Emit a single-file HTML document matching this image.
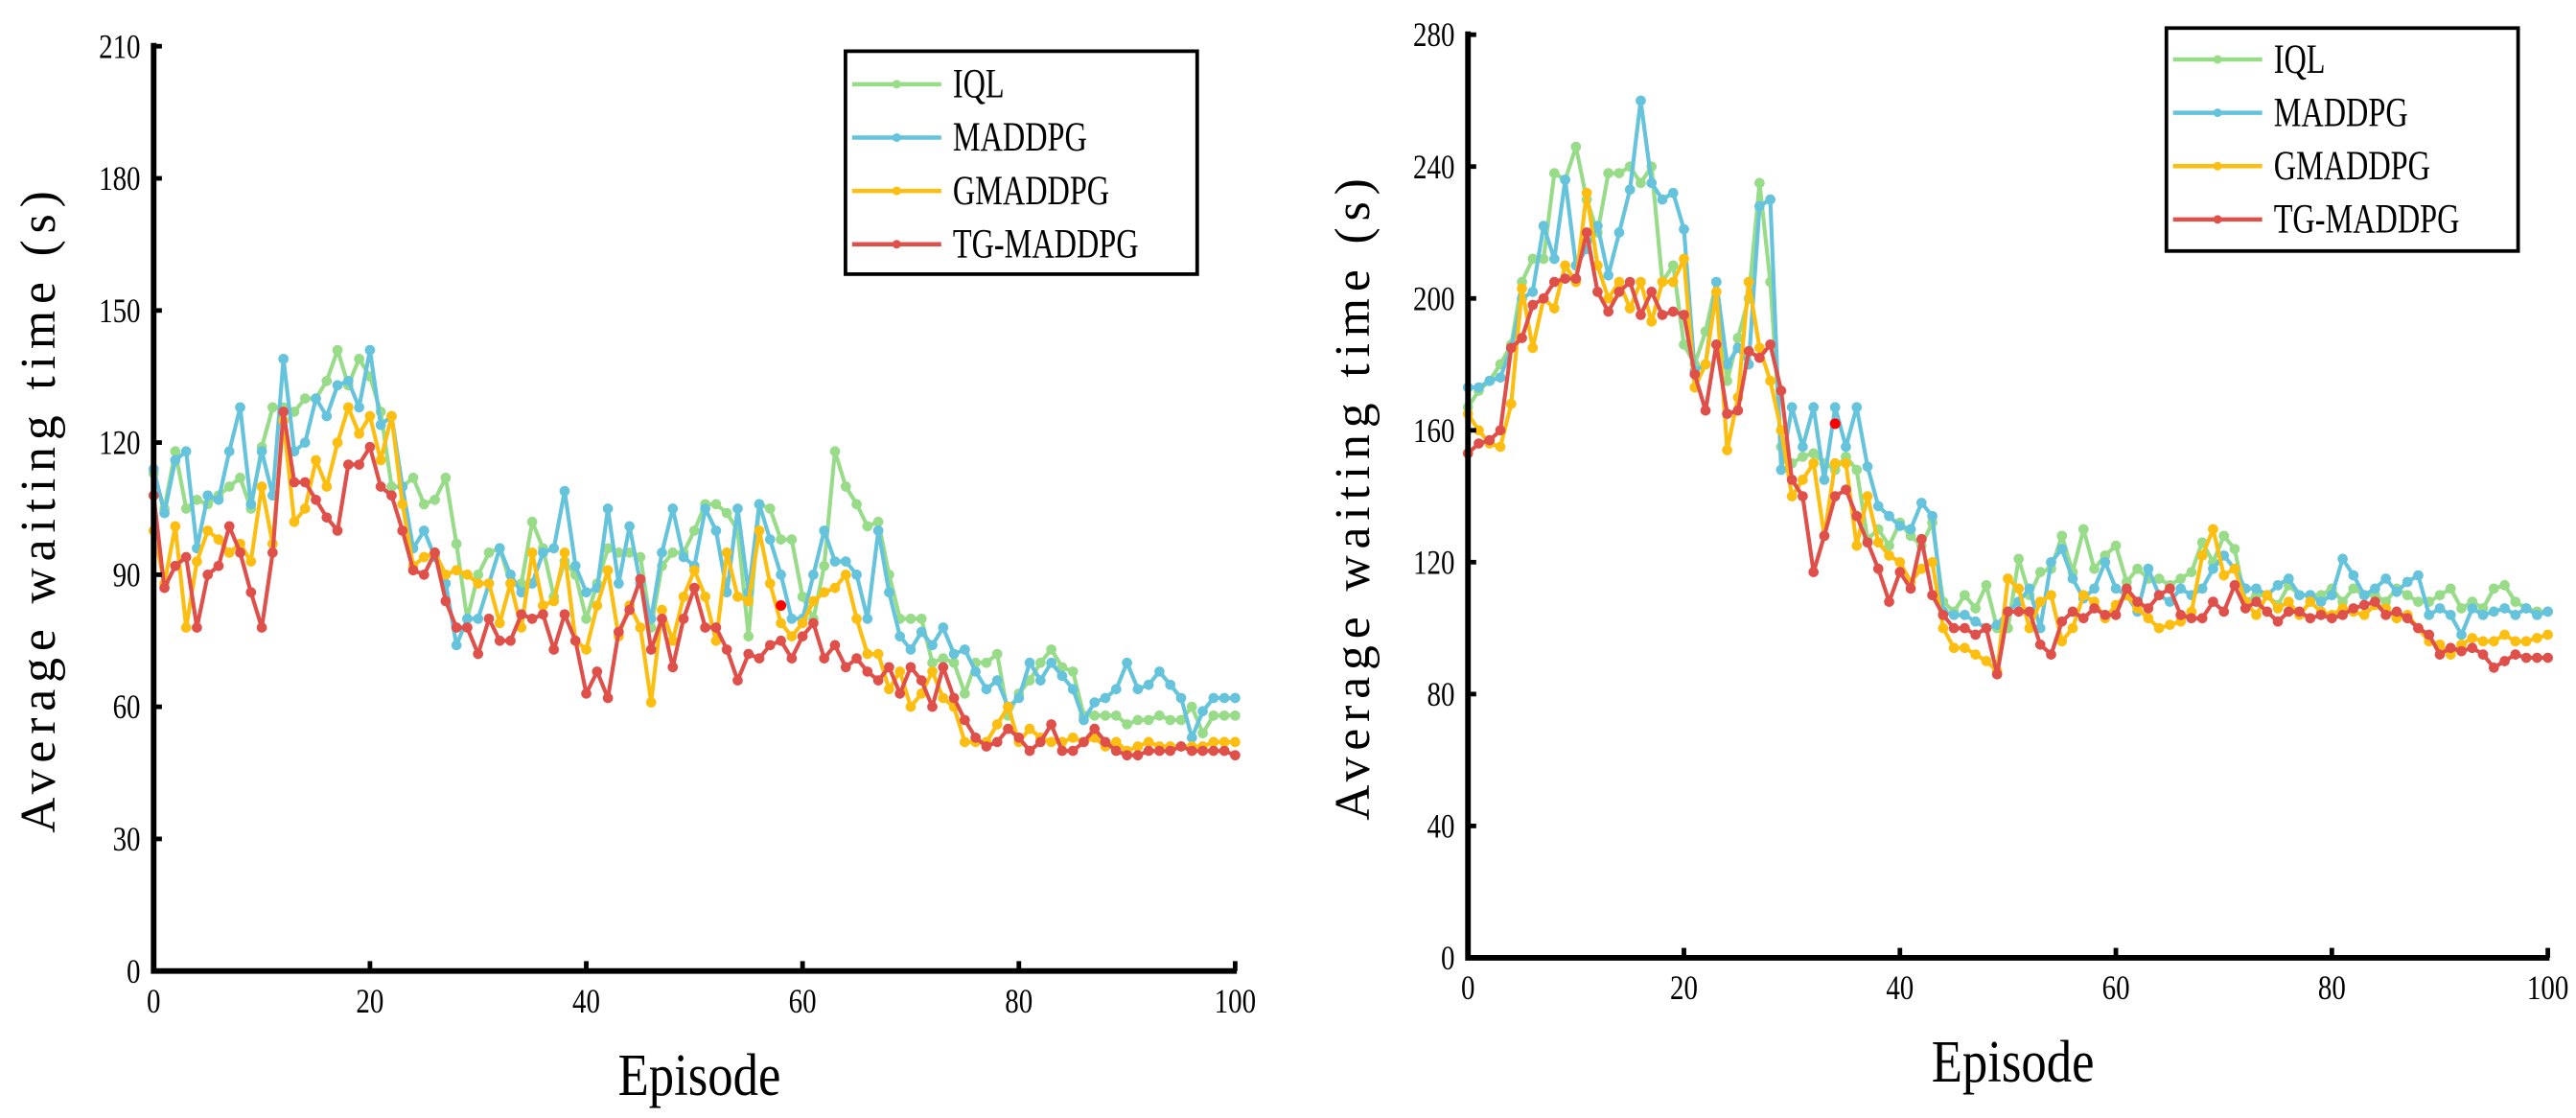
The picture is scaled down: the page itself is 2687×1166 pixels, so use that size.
<!DOCTYPE html>
<html><head><meta charset="utf-8"><style>
html,body{margin:0;padding:0;background:#fff;}
svg{display:block;}
text{font-family:"Liberation Serif",serif;fill:#000;}
</style></head><body>
<svg id="chart" width="2687" height="1166" viewBox="0 0 1560 677" xmlns="http://www.w3.org/2000/svg"></svg>
<script>
const episodes = Array.from({length:101},(_,i)=>i);
const seriesNames = ["IQL","MADDPG","GMADDPG","TG-MADDPG"];
const seriesColors = ["#98dc8a","#66c3dc","#fdbe12","#e0504a"];
const leftYTicks = [0,30,60,90,120,150,180,210];
const rightYTicks = [0,40,80,120,160,200,240,280];
const xTicks = [0,20,40,60,80,100];

const leftIQL = [113,105,118,105,107,106,108,110,112,105,119,128,128,127,130,130,134,141,133,139,135,127,110,110,112,106,107,112,97,80,90,95,96,88,88,102,96,85,93,90,80,88,96,95,95,94,78,92,95,95,100,106,106,104,100,76,106,105,98,98,85,80,92,118,110,106,101,102,90,80,80,80,70,71,70,63,70,70,72,58,63,66,70,73,69,68,58,58,58,58,56,57,57,58,57,57,60,54,58,58,58];
const leftMADDPG = [114,104,116,118,96,108,107,118,128,106,118,108,139,118,120,130,126,133,134,128,141,124,126,110,96,100,94,88,74,80,80,88,96,90,86,88,95,96,109,92,86,87,105,88,101,88,80,95,105,94,92,105,100,86,105,86,106,98,90,80,80,90,100,93,93,90,80,100,86,76,73,77,74,78,72,73,68,64,66,60,62,70,66,70,67,64,57,61,62,64,70,64,65,68,65,62,53,59,62,62,62];
const leftGMADDPG = [100,88,101,78,93,100,98,95,97,93,110,97,125,102,105,116,110,120,128,122,126,116,126,106,92,94,95,90,91,90,88,88,79,88,78,95,83,84,95,75,73,83,91,76,83,78,61,82,75,85,91,85,75,95,85,84,100,88,79,76,79,84,86,87,90,80,72,72,64,68,60,63,68,62,60,52,52,52,56,60,52,55,53,52,52,53,52,53,51,52,50,51,52,51,51,51,51,51,52,52,52];
const leftTG = [108,87,92,94,78,90,92,101,95,86,78,95,127,111,111,107,103,100,115,115,119,110,108,100,91,90,95,84,78,78,72,80,75,75,81,80,81,73,81,75,63,68,62,77,82,89,73,80,69,80,87,78,78,73,66,72,71,74,75,71,76,79,71,74,69,71,68,66,69,63,69,66,60,69,62,57,53,51,52,55,53,50,52,56,50,50,52,55,52,50,49,49,50,50,50,51,50,50,50,50,49];

const rightIQL = [167,172,175,180,186,205,212,212,238,236,246,230,220,238,238,240,235,240,205,210,186,180,190,205,175,188,200,235,205,155,150,152,153,150,148,152,148,127,130,125,132,128,125,132,108,105,110,106,113,100,100,121,110,117,118,128,117,130,118,122,125,114,118,115,115,113,115,117,126,120,128,124,108,110,110,107,113,110,110,110,112,108,112,110,110,108,112,110,108,108,110,112,106,108,106,112,113,108,106,105,105];
const rightMADDPG = [173,173,175,176,185,200,202,222,212,236,210,215,222,207,220,233,260,235,230,232,221,178,180,205,180,185,180,228,230,148,167,155,167,145,167,155,167,149,137,134,131,130,138,134,105,104,104,102,100,101,105,108,112,100,120,124,115,109,112,120,112,110,105,118,110,108,112,110,112,118,122,118,112,112,110,113,115,110,110,108,110,121,116,110,112,115,111,114,116,104,106,104,98,106,104,105,106,104,106,104,105];
const rightGMADDPG = [165,160,156,155,168,203,185,200,197,210,205,232,210,200,205,197,205,193,205,205,212,173,180,202,154,170,205,185,175,160,140,145,150,128,150,150,125,140,126,122,120,114,118,120,100,94,94,92,90,87,115,112,100,108,110,96,100,110,108,103,107,110,106,103,100,101,102,105,122,130,116,118,108,104,110,106,108,104,108,105,104,106,105,104,107,106,103,104,100,96,95,92,95,97,96,96,98,96,96,97,98];
const rightTG = [153,156,157,160,185,188,198,200,205,206,206,220,202,196,202,205,195,202,195,196,195,177,166,186,165,166,184,182,186,172,145,140,117,128,140,142,134,126,118,108,117,112,127,110,104,100,100,98,100,86,105,105,105,95,92,102,105,103,106,104,104,112,108,106,110,112,104,103,103,108,105,113,106,108,105,102,105,105,103,104,103,104,106,107,108,104,105,103,100,98,92,94,93,94,92,88,90,92,91,91,91];

const NS="http://www.w3.org/2000/svg";
const svg=document.getElementById('chart');
function mk(tag,attrs,parent){const e=document.createElementNS(NS,tag);for(const k in attrs)e.setAttribute(k,attrs[k]);(parent||svg).appendChild(e);return e;}

function drawPanel(cfg){
  const g=mk('g',{});
  
  
  const xs=v=>cfg.x0+(v-0)/100*(cfg.x1-cfg.x0);
  const ys=v=>cfg.y0-(v/cfg.ymax)*(cfg.y0-cfg.y1);
  cfg.series.forEach((arr,si)=>{
    const sg=mk('g',{},g);
    
    
    const pts=arr.map((v,i)=>xs(episodes[i]).toFixed(1)+','+ys(v).toFixed(1)).join(' ');
    const pl=mk('polyline',{points:pts,fill:'none',stroke:seriesColors[si],'stroke-width':2.4,'stroke-linejoin':'round'},sg);
    
    
    arr.forEach((v,i)=>{
      const c=mk('circle',{cx:xs(episodes[i]),cy:ys(v),r:3.1,fill:seriesColors[si]},sg);
      
      
    });
  });
  const hl=mk('circle',{cx:xs(cfg.hl[0]),cy:ys(cfg.hl[1]),r:3.2,fill:'#ff0000'},g);
  
  
  const ax=mk('path',{d:`M${cfg.x0},${cfg.y1-2} V${cfg.y0} H${cfg.x1+1}`,fill:'none',stroke:'#000','stroke-width':3.4},g);
  
  
  cfg.yticks.forEach(t=>{
    const y=ys(t);
    mk('line',{x1:cfg.x0,x2:cfg.x0+5,y1:y,y2:y,stroke:'#000','stroke-width':2.8},g);
    const tx=mk('text',{x:0,y:0,'text-anchor':'end','font-size':21,transform:`translate(${cfg.x0-8},${y+7}) scale(0.8,1)`},g);
    tx.textContent=t;
    
    
  });
  xTicks.forEach(t=>{
    const x=xs(t);
    mk('line',{x1:x,x2:x,y1:cfg.y0,y2:cfg.y0-6,stroke:'#000','stroke-width':2.8},g);
    const tx=mk('text',{x:0,y:0,'text-anchor':'middle','font-size':21,transform:`translate(${x},${cfg.y0+25}) scale(0.8,1)`},g);
    tx.textContent=t;
    
    
  });
  const xt=mk('text',{x:0,y:0,'text-anchor':'middle','font-size':36,transform:`translate(${(cfg.x0+cfg.x1)/2+3},${cfg.y0+75}) scale(0.85,1)`},g);
  xt.textContent='Episode';
  
  
  const yt=mk('text',{x:0,y:0,'text-anchor':'middle','font-size':30,'letter-spacing':'4',transform:`translate(${cfg.x0-60},${(cfg.y0+cfg.y1)/2}) rotate(-90)`},g);
  yt.textContent='Average waiting time (s)';
  
  
  const lg=mk('g',{},g);
  
  
  mk('rect',{x:cfg.lx,y:cfg.ly,width:213,height:135,fill:'#fff',stroke:'#000','stroke-width':2.2},lg);
  seriesNames.forEach((n,i)=>{
    const ey=cfg.ly+cfg.le+i*32.3;
    const eg=mk('g',{},lg);
    
    
    mk('line',{x1:cfg.lx+4,x2:cfg.lx+58,y1:ey,y2:ey,stroke:seriesColors[i],'stroke-width':2.6},eg);
    mk('circle',{cx:cfg.lx+31,cy:ey,r:2.6,fill:seriesColors[i]},eg);
    const t=mk('text',{x:0,y:0,'font-size':25,transform:`translate(${cfg.lx+65},${ey+8}) scale(0.75,1)`},eg);
    t.textContent=n;
  });
}
drawPanel({name:'left-chart',x0:93,x1:748,y0:588,y1:28,ymax:210,yticks:leftYTicks,
  series:[leftIQL,leftMADDPG,leftGMADDPG,leftTG],hl:[58,83],lx:512,ly:31,le:20});
drawPanel({name:'right-chart',x0:889,x1:1543,y0:580,y1:21,ymax:280,yticks:rightYTicks,
  series:[rightIQL,rightMADDPG,rightGMADDPG,rightTG],hl:[34,162],lx:1312,ly:17,le:19});
</script>
</body></html>
